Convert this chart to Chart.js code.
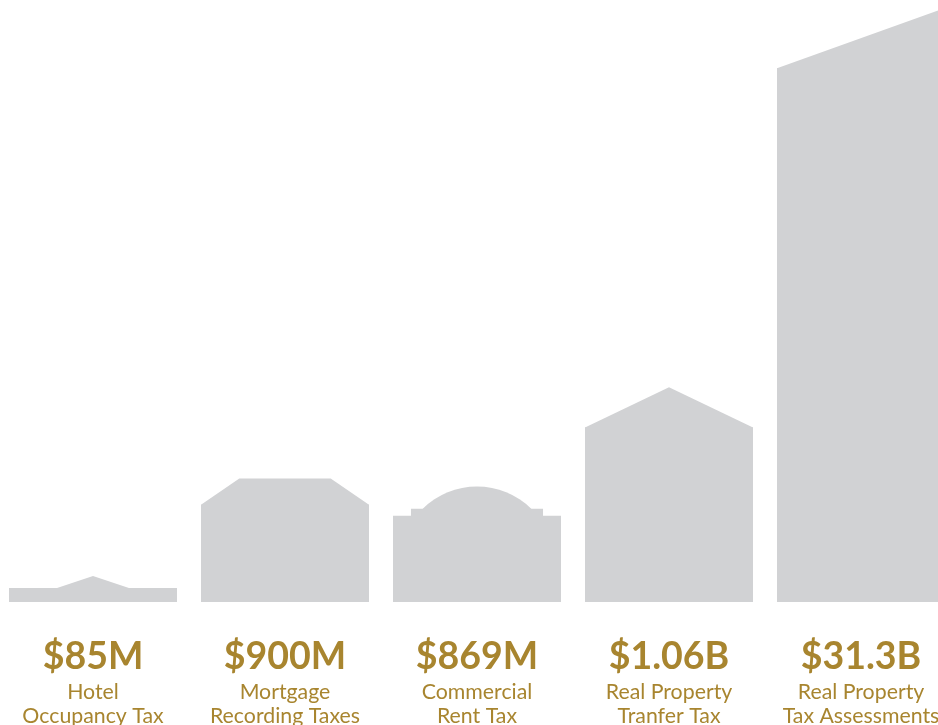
<!DOCTYPE html>
<html>
<head>
<meta charset="utf-8">
<title>Property tax revenue</title>
<script src="https://cdn.jsdelivr.net/npm/chart.js@4"></script>
<style>
  html, body { margin: 0; padding: 0; background: #fff; overflow: hidden; }
  #wrap { position: absolute; left: -3px; top: 0; width: 960px; height: 725px; }
</style>
</head>
<body>
<div id="wrap"><canvas id="grafico"></canvas></div>
<script>
// Revenue by tax type
const categorias = [
  ['Hotel', 'Occupancy Tax'],
  ['Mortgage', 'Recording Taxes'],
  ['Commercial', 'Rent Tax'],
  ['Real Property', 'Tranfer Tax'],
  ['Real Property', 'Tax Assessments']
];
const valores = ['$85M', '$900M', '$869M', '$1.06B', '$31.3B'];

// building silhouettes: wall height and roof top height (relative units)
const alturaParede = [14, 97, 86, 174, 532];
const alturaTelhado = [26, 123, 115, 214, 592];

const cinza = '#d1d2d4';
const dourado = '#a8852f';

// roof shape for each building (insets as a fraction of bar width)
const telhados = [
  { tipo: 'gable', inset: 0.286 },
  { tipo: 'hip', inset: 0.228 },
  { tipo: 'dome', degrau: 0.107, cupula: 0.177, alturaDegrau: 7 },
  { tipo: 'gable', inset: 0 },
  { tipo: 'shed' }
];

// draws the roofs on top of the bars
const pluginTelhados = {
  id: 'telhados',
  afterDatasetsDraw(chart) {
    const ctx = chart.ctx;
    const yScale = chart.scales.y;
    const barras = chart.getDatasetMeta(0).data;
    ctx.save();
    ctx.fillStyle = cinza;
    barras.forEach((barra, i) => {
      const { x, y, width } = barra.getProps(['x', 'y', 'width'], true);
      const esq = x - width / 2;
      const dir = x + width / 2;
      const topo = yScale.getPixelForValue(alturaTelhado[i]);
      const base = y + 1;
      const t = telhados[i];
      ctx.beginPath();
      if (t.tipo === 'gable') {
        ctx.moveTo(esq + width * t.inset, base);
        ctx.lineTo(esq + width * t.inset, y);
        ctx.lineTo(x, topo);
        ctx.lineTo(dir - width * t.inset, y);
        ctx.lineTo(dir - width * t.inset, base);
      } else if (t.tipo === 'hip') {
        ctx.moveTo(esq, base);
        ctx.lineTo(esq, y);
        ctx.lineTo(esq + width * t.inset, topo);
        ctx.lineTo(dir - width * t.inset, topo);
        ctx.lineTo(dir, y);
        ctx.lineTo(dir, base);
      } else if (t.tipo === 'dome') {
        const yDegrau = yScale.getPixelForValue(alturaParede[i] + t.alturaDegrau);
        ctx.rect(esq + width * t.degrau, yDegrau, width * (1 - 2 * t.degrau), base - yDegrau);
        ctx.fill();
        // dome as a circular segment sitting on the step
        const meiaCorda = width * (0.5 - t.cupula);
        const flecha = yDegrau - topo;
        const raio = (meiaCorda * meiaCorda + flecha * flecha) / (2 * flecha);
        const cy = topo + raio;
        const ang = Math.asin(meiaCorda / raio);
        ctx.beginPath();
        ctx.arc(x, cy, raio, -Math.PI / 2 - ang, -Math.PI / 2 + ang);
        ctx.lineTo(x + meiaCorda, yDegrau + 1);
        ctx.lineTo(x - meiaCorda, yDegrau + 1);
      } else if (t.tipo === 'shed') {
        ctx.moveTo(esq, base);
        ctx.lineTo(esq, y);
        ctx.lineTo(dir, topo);
        ctx.lineTo(dir, base);
      }
      ctx.closePath();
      ctx.fill();
    });
    ctx.restore();
  }
};

const ctx = document.getElementById('grafico').getContext('2d');
const chart = new Chart(ctx, {
  type: 'bar',
  data: {
    labels: valores,
    datasets: [{
      data: alturaParede,
      backgroundColor: cinza,
      borderWidth: 0,
      categoryPercentage: 1,
      barPercentage: 0.875
    }]
  },
  options: {
    responsive: true,
    maintainAspectRatio: false,
    animation: false,
    layout: { padding: 0 },
    plugins: {
      legend: { display: false },
      tooltip: { enabled: false }
    },
    scales: {
      x: {
        type: 'category',
        labels: valores,
        offset: true,
        weight: 0,
        grid: { display: false, drawTicks: false },
        border: { display: false },
        afterFit(scale) { scale.height = 75; },
        ticks: {
          color: dourado,
          padding: 33,
          maxRotation: 0,
          autoSkip: false,
          font: { family: 'Lato', size: 37.5, weight: 'bold', lineHeight: '44px' }
        }
      },
      x2: {
        type: 'category',
        axis: 'x',
        position: 'bottom',
        labels: categorias,
        offset: true,
        weight: 1,
        grid: { display: false, drawTicks: false },
        border: { display: false },
        afterFit(scale) { scale.height = 48; },
        ticks: {
          color: dourado,
          padding: 3,
          maxRotation: 0,
          autoSkip: false,
          font: { family: 'Lato', size: 21.3, lineHeight: '24px' }
        }
      },
      y: {
        display: false,
        min: 0,
        max: 600
      }
    }
  },
  plugins: [pluginTelhados]
});
</script>
</body>
</html>
